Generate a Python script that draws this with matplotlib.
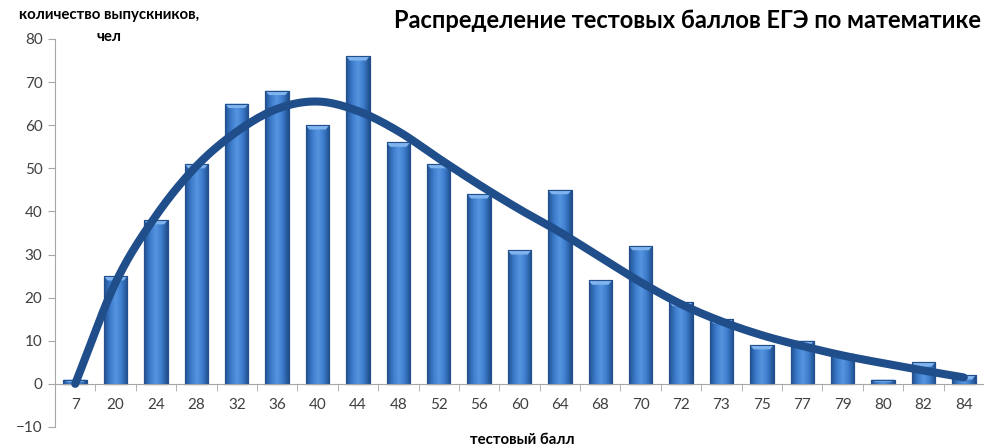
import numpy as np
import matplotlib
matplotlib.use("Agg")
import matplotlib.pyplot as plt
from matplotlib.colors import LinearSegmentedColormap

# data
scores = ["7", "20", "24", "28", "32", "36", "40", "44", "48", "52", "56", "60",
          "64", "68", "70", "72", "73", "75", "77", "79", "80", "82", "84"]
graduates = [1, 25, 38, 51, 65, 68, 60, 76, 56, 51, 44, 31,
             45, 24, 32, 19, 15, 9, 10, 7, 1, 5, 2]
trend = [0, 23.5, 39, 50.5, 58.5, 63.8, 65.5, 63.3, 58.6, 52.3, 46.2, 40.5,
         35.2, 29.4, 23.6, 18.5, 14.5, 11.3, 8.8, 6.6, 4.8, 3.1, 1.5]

plt.rcParams['font.family'] = ['Lato', 'DejaVu Sans']


def catmull_rom(xs, ys, n=20):
    # smooth drawing of the trend line through the read points
    xs = np.asarray(xs, float)
    ys = np.asarray(ys, float)
    px = np.concatenate([[2 * xs[0] - xs[1]], xs, [2 * xs[-1] - xs[-2]]])
    py = np.concatenate([[2 * ys[0] - ys[1]], ys, [2 * ys[-1] - ys[-2]]])
    out_x, out_y = [], []
    t = np.linspace(0, 1, n, endpoint=False)
    for i in range(1, len(px) - 2):
        for p, out in ((px, out_x), (py, out_y)):
            p0, p1, p2, p3 = p[i - 1], p[i], p[i + 1], p[i + 2]
            out.extend(0.5 * ((2 * p1) + (-p0 + p2) * t
                              + (2 * p0 - 5 * p1 + 4 * p2 - p3) * t ** 2
                              + (-p0 + 3 * p1 - 3 * p2 + p3) * t ** 3))
    out_x.append(xs[-1])
    out_y.append(ys[-1])
    return np.array(out_x), np.array(out_y)


fig = plt.figure(figsize=(9.84, 4.46), dpi=100)
ax = fig.add_axes([55 / 984, 1 - 427 / 446, (984 - 55) / 984, (427 - 39) / 446])

x = np.arange(len(scores))
width = 0.58
bars = ax.bar(x, graduates, width=width, color='#3b7bcc', edgecolor='#24528f',
              linewidth=0.8, zorder=2)

grad = LinearSegmentedColormap.from_list(
    'bar', ['#21518f', '#3b7bcb', '#5595e0', '#3b7bcb', '#1f4c8a'])
gimg = np.linspace(0, 1, 64).reshape(1, -1)
for b in bars:
    x0, w, h = b.get_x(), b.get_width(), b.get_height()
    im = ax.imshow(gimg, cmap=grad, extent=(x0, x0 + w, 0, h), aspect='auto',
                   zorder=2.1, interpolation='bicubic')
    im.set_clip_path(b)
    cap = min(1.0, h * 0.5)
    ax.fill([x0, x0 + w, x0 + w * 0.85, x0 + w * 0.15],
            [h, h, h - cap, h - cap], color='#7fb4ee', lw=0, zorder=2.2)
    ax.plot([x0, x0 + w, x0 + w, x0, x0], [0, 0, h, h, 0], color='#23508c',
            lw=0.8, zorder=2.3)

cx, cy = catmull_rom(x, trend)
ax.plot(cx, cy, color='#1f4e8b', lw=5.8, solid_capstyle='round', zorder=3)

ax.set_xlim(-0.5, len(scores) - 0.5)
ax.set_ylim(-10, 80)
ax.set_yticks(range(-10, 81, 10))
ax.set_xticks(x)
ax.set_xticklabels(scores)
ax.set_xticks(np.arange(-0.5, len(scores), 1), minor=True)

for s in ('top', 'right'):
    ax.spines[s].set_visible(False)
ax.spines['bottom'].set_position(('data', 0))
ax.spines['bottom'].set_color('#a6a6a6')
ax.spines['left'].set_color('#a6a6a6')
ax.tick_params(axis='y', direction='out', length=5, color='#a6a6a6',
               labelsize=11, labelcolor='#404040', pad=4)
ax.tick_params(axis='x', which='major', length=0, labelsize=11,
               labelcolor='#404040', pad=10)
ax.tick_params(axis='x', which='minor', direction='out', length=5,
               color='#a6a6a6')

# y axis title, two lines as in the original
fig.text(109 / 984, 1 - 15 / 446, 'количество выпускников,', ha='center',
         va='center', fontsize=10.8, fontweight='bold')
fig.text(109 / 984, 1 - 37 / 446, 'чел', ha='center',
         va='center', fontsize=10.8, fontweight='bold')
fig.text(688 / 984, 1 - 20 / 446, 'Распределение тестовых баллов ЕГЭ по математике',
         ha='center', va='center', fontsize=17, fontweight='bold')
fig.text(522 / 984, 1 - 440 / 446, 'тестовый балл', ha='center', va='center',
         fontsize=10.8, fontweight='bold')

fig.savefig('out.png', dpi=100)
